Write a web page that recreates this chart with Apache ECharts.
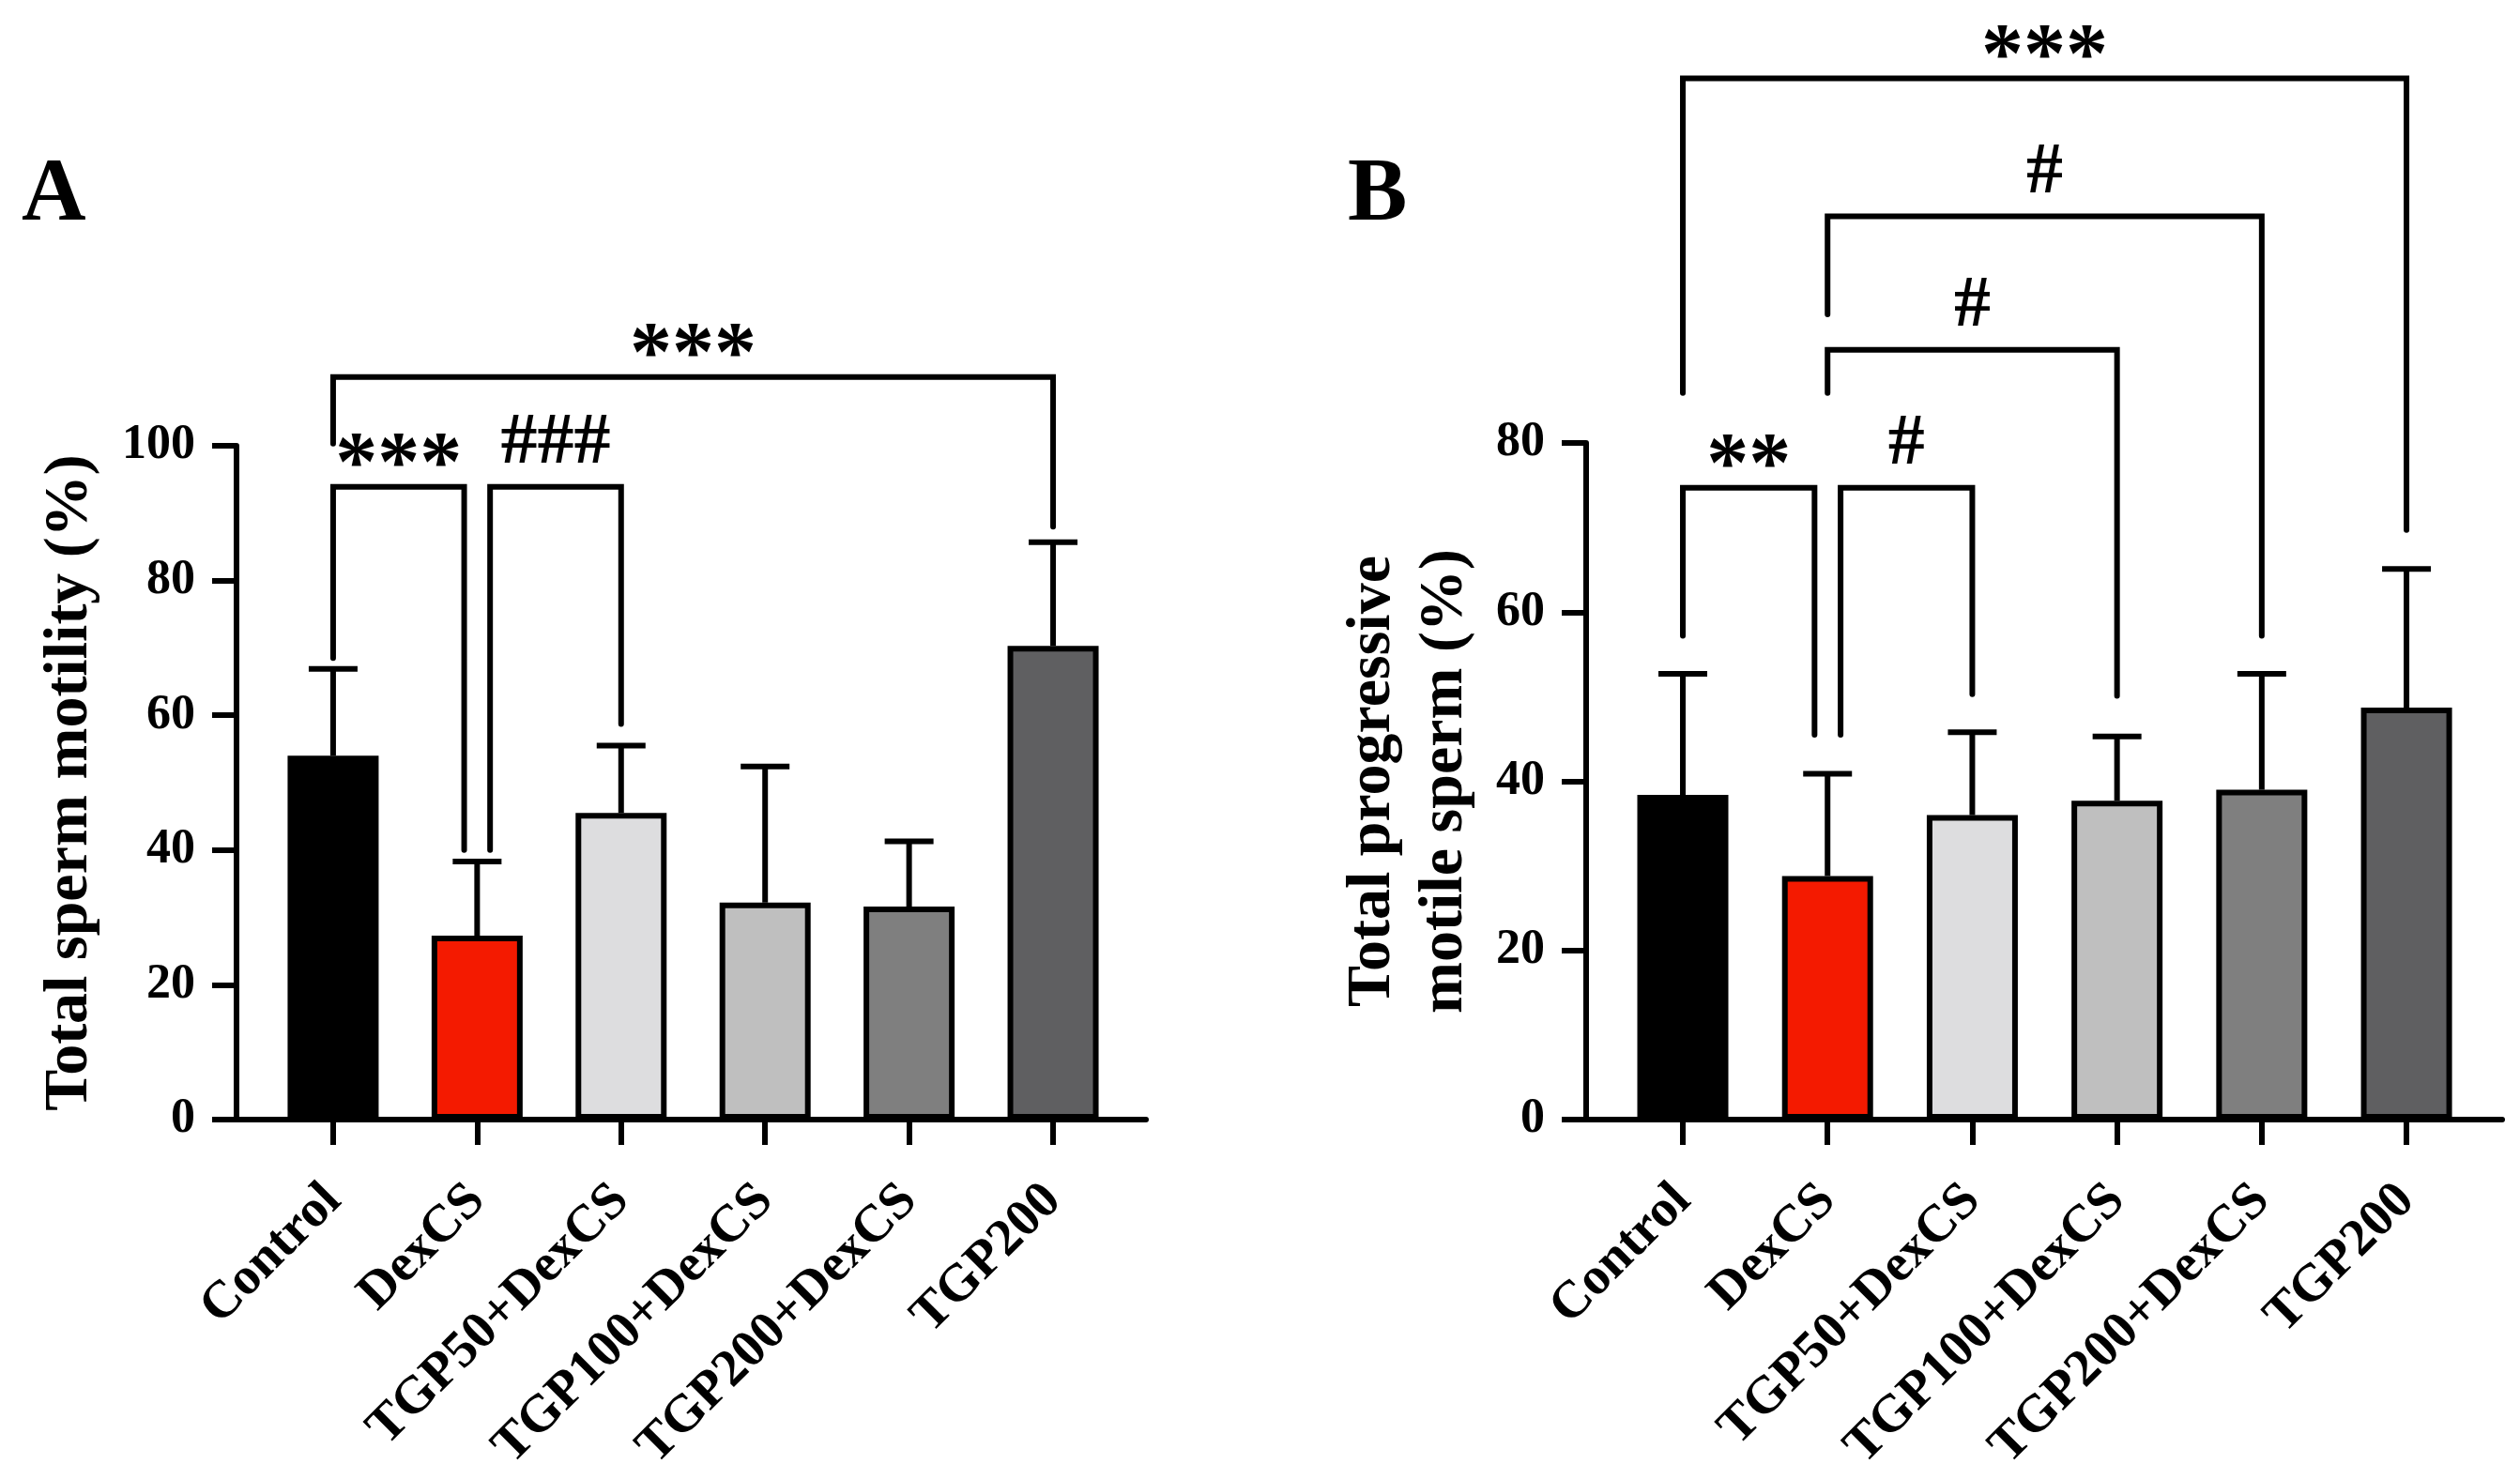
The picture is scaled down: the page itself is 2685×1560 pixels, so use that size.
<!DOCTYPE html>
<html>
<head>
<meta charset="utf-8">
<script src="https://cdn.jsdelivr.net/npm/echarts@6/dist/echarts.min.js"></script>
<style>
html,body{margin:0;padding:0;background:#fff;}
#chart{width:2685px;height:1560px;}
</style>
</head>
<body>
<div id="chart"></div>
<script>
// ---------- data ----------
const categories = ['Control', 'DexCS', 'TGP50+DexCS', 'TGP100+DexCS', 'TGP200+DexCS', 'TGP200'];
const barColors = ['#000000', '#F41A00', '#DDDDDF', '#BFBFBF', '#7F7F7F', '#5F5F61'];

const motilityMean = [54.0, 27.3, 45.5, 32.2, 31.6, 70.3];
const motilitySD   = [12.9, 11.0, 10.0, 20.2, 9.7, 15.4];
const motilityTicks = [0, 20, 40, 60, 80, 100];

const progressiveMean = [38.4, 28.8, 36.0, 37.7, 39.0, 48.7];
const progressiveSD   = [14.3, 12.1, 9.8, 7.6, 13.7, 16.4];
const progressiveTicks = [0, 20, 40, 60, 80];

// significance brackets: groups compared, bracket top, leg ends, label
const bracketsA = [
  {from: 0, to: 5, top: 110.2, leftEnd: 100.3, rightEnd: 88.0, text: '***', nudgeL: 0, nudgeR: 0},
  {from: 0, to: 1, top: 93.9, leftEnd: 68.5, rightEnd: 40.0, text: '***', nudgeL: 0, nudgeR: -0.09},
  {from: 1, to: 2, top: 93.9, leftEnd: 40.0, rightEnd: 58.7, text: '###', nudgeL: 0.09, nudgeR: 0}
];
const bracketsB = [
  {from: 0, to: 5, top: 123.1, leftEnd: 85.9, rightEnd: 69.7, text: '***', nudgeL: 0, nudgeR: 0},
  {from: 1, to: 4, top: 106.8, leftEnd: 95.2, rightEnd: 57.2, text: '#', nudgeL: 0, nudgeR: 0},
  {from: 1, to: 3, top: 91.0, leftEnd: 85.9, rightEnd: 50.1, text: '#', nudgeL: 0, nudgeR: 0},
  {from: 0, to: 1, top: 74.7, leftEnd: 57.2, rightEnd: 45.5, text: '**', nudgeL: 0, nudgeR: -0.09},
  {from: 1, to: 2, top: 74.7, leftEnd: 45.5, rightEnd: 50.3, text: '#', nudgeL: 0.09, nudgeR: 0}
];

// ---------- style ----------
const FONT = "'Liberation Serif','Times New Roman',serif";
const LW = 6;

function errorRender(params, api) {
  const i = api.value(0), m = api.value(1), e = api.value(2);
  const p0 = api.coord([i, m]);
  const p1 = api.coord([i, m + e]);
  return {
    type: 'group',
    children: [
      {type: 'line', shape: {x1: p0[0], y1: p0[1], x2: p1[0], y2: p1[1]}, style: {stroke: '#000', lineWidth: LW}},
      {type: 'line', shape: {x1: p1[0] - 26, y1: p1[1], x2: p1[0] + 26, y2: p1[1]}, style: {stroke: '#000', lineWidth: LW}}
    ]
  };
}

function bracketRenderFactory(list) {
  return function (params, api) {
    const b = list[params.dataIndex];
    const xl = b.from + b.nudgeL, xr = b.to + b.nudgeR;
    const pl0 = api.coord([xl, b.leftEnd]);
    const pl1 = api.coord([xl, b.top]);
    const pr1 = api.coord([xr, b.top]);
    const pr0 = api.coord([xr, b.rightEnd]);
    const isHash = b.text.indexOf('#') >= 0;
    return {
      type: 'group',
      children: [
        {type: 'polyline', shape: {points: [pl0, pl1, pr1, pr0]},
         style: {stroke: '#000', lineWidth: LW, fill: null, lineJoin: 'miter', lineCap: 'round'}},
        {type: 'text',
         style: {text: b.text, x: (pl1[0] + pr1[0]) / 2, y: pl1[1] - (isHash ? 46 : 20),
                 align: 'center', verticalAlign: 'middle',
                 font: 'bold ' + (isHash ? 78 : 90) + 'px ' + FONT, fill: '#000'}}
      ]
    };
  };
}

function xAxisCfg(gridIndex, min, max) {
  return {
    type: 'value', gridIndex: gridIndex, min: min, max: max,
    splitLine: {show: false},
    axisLine: {show: true, onZero: false, lineStyle: {color: '#000', width: LW}},
    axisTick: {show: true, customValues: categories.map((c, i) => i), length: 27, lineStyle: {color: '#000', width: LW}},
    axisLabel: {show: true, customValues: categories.map((c, i) => i), rotate: 45, margin: 78,
      formatter: v => categories[Math.round(v)] || '',
      fontFamily: FONT, fontWeight: 'bold', fontSize: 56, color: '#000'}
  };
}
function yAxisCfg(gridIndex, ticks, name, nameGap, lineHeight) {
  return {
    type: 'value', gridIndex: gridIndex, min: ticks[0], max: ticks[ticks.length - 1],
    interval: ticks[1] - ticks[0],
    name: name, nameLocation: 'middle', nameRotate: 90, nameGap: nameGap,
    nameTextStyle: {fontFamily: FONT, fontWeight: 'bold', fontSize: 66, color: '#000', lineHeight: lineHeight},
    splitLine: {show: false},
    axisLine: {show: true, onZero: false, lineStyle: {color: '#000', width: LW}},
    axisTick: {show: true, length: 26, lineStyle: {color: '#000', width: LW}},
    axisLabel: {margin: 44, fontFamily: FONT, fontWeight: 'bold', fontSize: 52, color: '#000'}
  };
}

function barSeries(idx, means) {
  return {
    type: 'bar', xAxisIndex: idx, yAxisIndex: idx, barWidth: 97,
    data: means.map((v, i) => ({value: [i, v], itemStyle: {color: barColors[i]}})),
    itemStyle: {borderColor: '#000', borderWidth: LW},
    z: 2
  };
}
function errSeries(idx, means, sds) {
  return {
    type: 'custom', xAxisIndex: idx, yAxisIndex: idx, clip: false,
    renderItem: errorRender,
    encode: {x: 0, y: 1},
    data: means.map((v, i) => [i, v, sds[i]]),
    z: 3
  };
}
function bracketSeries(idx, list) {
  return {
    type: 'custom', xAxisIndex: idx, yAxisIndex: idx, clip: false,
    renderItem: bracketRenderFactory(list),
    encode: {x: 0, y: 1},
    data: list.map(b => [b.from, b.top]),
    z: 4
  };
}

const chart = echarts.init(document.getElementById('chart'), null, {renderer: 'canvas'});
chart.setOption({
  backgroundColor: '#fff',
  animation: false,
  grid: [
    {left: 252, right: 1464, top: 475, bottom: 367, outerBoundsMode: 'none', containLabel: false},
    {left: 1690, right: 19, top: 472, bottom: 367, outerBoundsMode: 'none', containLabel: false}
  ],
  xAxis: [xAxisCfg(0, -0.671, 5.645), xAxisCfg(1, -0.668, 5.661)],
  yAxis: [
    yAxisCfg(0, motilityTicks, 'Total sperm motility (%)', 144, 66),
    yAxisCfg(1, progressiveTicks, 'Total progressive\nmotile sperm (%)', 112, 77)
  ],
  graphic: [
    {type: 'text', left: 23, top: 162, style: {text: 'A', font: 'bold 95px ' + FONT, fill: '#000'}},
    {type: 'text', left: 1436, top: 162, style: {text: 'B', font: 'bold 95px ' + FONT, fill: '#000'}}
  ],
  series: [
    barSeries(0, motilityMean), errSeries(0, motilityMean, motilitySD), bracketSeries(0, bracketsA),
    barSeries(1, progressiveMean), errSeries(1, progressiveMean, progressiveSD), bracketSeries(1, bracketsB)
  ]
});
</script>
</body>
</html>
